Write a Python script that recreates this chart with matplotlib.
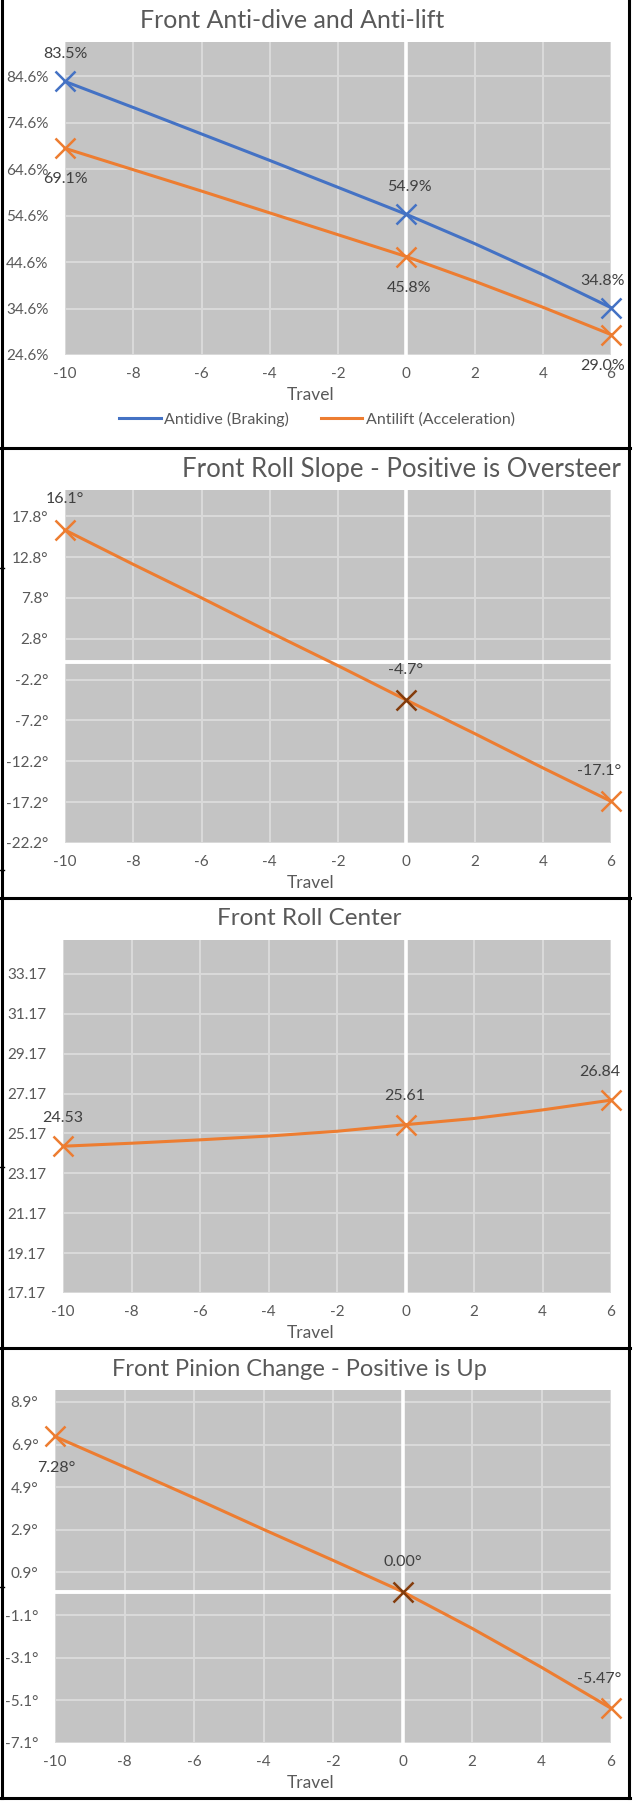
import matplotlib

matplotlib.use('Agg')
import matplotlib.pyplot as plt
from matplotlib.lines import Line2D

# travel positions (inches) and values read from the sheet
travel = [-10, -8, -6, -4, -2, 0, 2, 4, 6]
antidive = [83.5, 77.9, 72.2, 66.5, 60.7, 54.9, 48.6, 41.9, 34.8]
antilift = [69.1, 64.5, 59.9, 55.2, 50.5, 45.8, 40.5, 34.9, 29.0]
roll_slope = [16.1, 11.9, 7.8, 3.6, -0.5, -4.7, -8.8, -13.0, -17.1]
roll_center = [24.53, 24.68, 24.85, 25.04, 25.28, 25.61, 25.92, 26.35, 26.84]
pinion = [7.28, 5.85, 4.40, 2.92, 1.47, 0.00, -1.72, -3.55, -5.47]

marked = [0, 5, 8]  # points that carry a marker + data label
x_ticks = [-10, -8, -6, -4, -2, 0, 2, 4, 6]

antidive_yticks = [24.6, 34.6, 44.6, 54.6, 64.6, 74.6, 84.6]
slope_yticks = [-22.2, -17.2, -12.2, -7.2, -2.2, 2.8, 7.8, 12.8, 17.8]
center_yticks = [17.17, 19.17, 21.17, 23.17, 25.17, 27.17, 29.17, 31.17, 33.17]
pinion_yticks = [-7.1, -5.1, -3.1, -1.1, 0.9, 2.9, 4.9, 6.9, 8.9]

BLUE = '#4472C4'
ORANGE = '#ED7D31'
BROWN = '#843C0C'
PLOT_BG = '#C4C4C4'
GRID = '#D9D9D9'
TXT = '#595959'
LBL = '#404040'

plt.rcParams['font.family'] = ['Lato', 'DejaVu Sans']
plt.rcParams['axes.unicode_minus'] = False

W, H = 634, 1804
fig = plt.figure(figsize=(W / 100, H / 100), dpi=100)


def fx(x):
    return x / W


def fy(y):
    return 1 - y / H


def make_axes(x0, y0, x1, y1, ylim, yticks, ylabels):
    ax = fig.add_axes([fx(x0), fy(y1), (x1 - x0) / W, (y1 - y0) / H])
    ax.set_facecolor(PLOT_BG)
    ax.set_xlim(-10, 6)
    ax.set_ylim(*ylim)
    ax.set_xticks(x_ticks)
    ax.set_xticklabels([str(t) for t in x_ticks])
    ax.set_yticks(yticks)
    ax.set_yticklabels(ylabels)
    ax.grid(True, color=GRID, lw=1.5, zorder=0)
    ax.set_axisbelow(True)
    for s in ax.spines.values():
        s.set_visible(False)
    ax.tick_params(axis='both', length=0, labelsize=11, labelcolor=TXT)
    ax.tick_params(axis='y', pad=12)
    ax.tick_params(axis='x', pad=9)
    ax.axvline(0, color='white', lw=2.6, zorder=1)
    return ax


def label_points(ax, xs, ys, texts, offsets):
    for i, (dx, dy) in zip(marked, offsets):
        ax.annotate(texts[i], (xs[i], ys[i]), xytext=(dx, dy), textcoords='offset pixels',
                    ha='center', va='center', fontsize=11.5, color=LBL)


def travel_label(y):
    fig.text(fx(311), fy(y), 'Travel', ha='center', va='center', fontsize=12.5, color=TXT)


# --- Panel 1: anti-dive / anti-lift ---
ax1 = make_axes(65, 42, 611, 355, (24.6, 92.0), antidive_yticks,
                [f"{v:.1f}%" for v in antidive_yticks])
ax1.plot(travel, antidive, color=BLUE, lw=2.2, marker='x', markevery=marked,
         ms=14, mew=1.8, label='Antidive (Braking)', zorder=3, clip_on=False)
ax1.plot(travel, antilift, color=ORANGE, lw=2.2, marker='x', markevery=marked,
         ms=14, mew=1.8, label='Antilift (Acceleration)', zorder=3, clip_on=False)
label_points(ax1, travel, antidive, [f"{v:.1f}%" for v in antidive], [(0, 27), (3, 27), (-8, 27)])
label_points(ax1, travel, antilift, [f"{v:.1f}%" for v in antilift], [(0, -31), (3, -31), (-8, -31)])
fig.text(fx(292), fy(20), 'Front Anti-dive and Anti-lift', ha='center', va='center',
         fontsize=18, color=TXT)
travel_label(395)
leg = ax1.legend(loc='center', bbox_to_anchor=(fx(317), fy(419)), bbox_transform=fig.transFigure,
                 ncol=2, frameon=False, fontsize=11.5, handlelength=2.6, handletextpad=0.2,
                 columnspacing=2.0)
for h in leg.get_lines():
    h.set_marker('')
for t in leg.get_texts():
    t.set_color(TXT)

# --- Panel 2: roll slope ---
ax2 = make_axes(65, 490, 611, 843, (-22.2, 21.0), slope_yticks,
                [f"{v:.1f}°" for v in slope_yticks])
ax2.axhline(0, color='white', lw=2.8, zorder=1)
ax2.plot(travel, roll_slope, color=ORANGE, lw=2.2, marker='x', markevery=[0, 8],
         ms=14, mew=1.8, zorder=3, clip_on=False)
ax2.plot([travel[5]], [roll_slope[5]], ls='', marker='x', color=BROWN, ms=14, mew=1.8, zorder=4)
label_points(ax2, travel, roll_slope, [f"{v:.1f}°" for v in roll_slope], [(0, 31), (-1, 30), (-12, 30)])
fig.text(fx(621), fy(470), 'Front Roll Slope - Positive is Oversteer', ha='right', va='center',
         fontsize=18.5, color=TXT)
travel_label(883)

# --- Panel 3: roll center ---
ax3 = make_axes(63, 940, 611, 1293, (17.17, 34.87), center_yticks,
                [f"{v:.2f}" for v in center_yticks])
ax3.plot(travel, roll_center, color=ORANGE, lw=2.2, marker='x', markevery=marked,
         ms=14, mew=1.8, zorder=3, clip_on=False)
label_points(ax3, travel, roll_center, [f"{v:.2f}" for v in roll_center], [(0, 28), (-1, 29), (-11, 28)])
fig.text(fx(309), fy(918), 'Front Roll Center', ha='center', va='center', fontsize=17.5, color=TXT)
travel_label(1333)

# --- Panel 4: pinion change ---
ax4 = make_axes(55, 1390, 611, 1743, (-7.1, 9.46), pinion_yticks,
                [f"{v:.1f}°" for v in pinion_yticks])
ax4.axhline(0, color='white', lw=2.8, zorder=1)
ax4.plot(travel, pinion, color=ORANGE, lw=2.2, marker='x', markevery=[0, 8],
         ms=14, mew=1.8, zorder=3, clip_on=False)
ax4.plot([travel[5]], [pinion[5]], ls='', marker='x', color=BROWN, ms=14, mew=1.8, zorder=4)
label_points(ax4, travel, pinion, [f"{v:.2f}°" for v in pinion], [(1, -32), (0, 30), (-12, 29)])
fig.text(fx(299), fy(1370), 'Front Pinion Change - Positive is Up', ha='center', va='center',
         fontsize=17, color=TXT)
travel_label(1783)

# sheet cell borders around the four charts
border = dict(transform=fig.transFigure, color='black', lw=2.2)
fig.add_artist(Line2D([fx(1.5), fx(1.5)], [fy(0), fy(1798)], **border))
fig.add_artist(Line2D([fx(628.5), fx(628.5)], [fy(0), fy(1798)], **border))
for yb in [448, 898, 1348, 1798]:
    fig.add_artist(Line2D([fx(0), fx(630)], [fy(yb), fy(yb)], **border))
for yb in [568, 870, 1167, 1587]:
    fig.add_artist(Line2D([fx(0), fx(4)], [fy(yb), fy(yb)], transform=fig.transFigure,
                          color='black', lw=1))

fig.savefig('out.png', dpi=100)
